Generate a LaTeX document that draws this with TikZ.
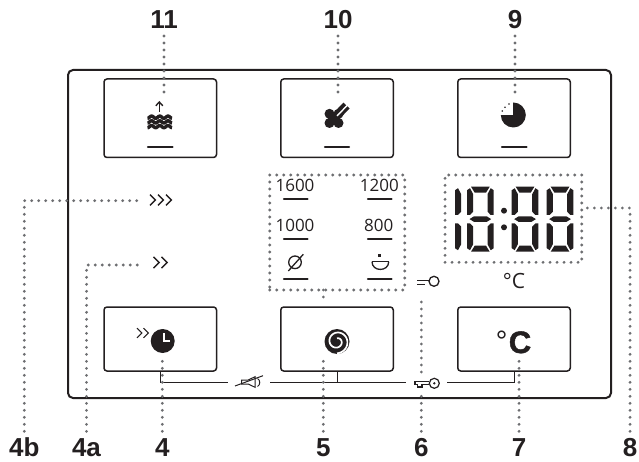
\documentclass[tikz,border=0pt]{standalone}
\usepackage{fontspec}
\setmainfont{Open Sans}
\newfontfamily\labfont{Liberation Sans}
\newfontfamily\cfont[BoldFeatures={FakeBold=1.6}]{Liberation Sans}
\definecolor{ink}{HTML}{231F20}
\definecolor{dotgray}{HTML}{6D6E71}
\newcommand\segvert[1]{%
  \fill[ink,shift={(#1,186.7)}] (0,3.5)--(3,1.5)--(6.2,7.5)--(6.2,25)--(3,28.3)--(0,28.3)--cycle;
  \fill[ink,shift={(#1,186.7)}] (0,61.5)--(3,63.5)--(6.2,57.5)--(6.2,40)--(3,36.7)--(0,36.7)--cycle;}
\newcommand\segrvert[1]{%
  \fill[ink,shift={(#1,186.7)}] (26.7,3.5)--(23.7,1.5)--(20.5,7.5)--(20.5,25)--(23.7,28.3)--(26.7,28.3)--cycle;
  \fill[ink,shift={(#1,186.7)}] (26.7,61.5)--(23.7,63.5)--(20.5,57.5)--(20.5,40)--(23.7,36.7)--(26.7,36.7)--cycle;}
\newcommand\segdigit[1]{%
  \segvert{#1}\segrvert{#1}
  \fill[ink,shift={(#1,186.7)}] (4,0)--(22.7,0)--(19,6)--(7.7,6)--cycle;
  \fill[ink,shift={(#1,186.7)}] (4,65)--(22.7,65)--(19,59)--(7.7,59)--cycle;
  \fill[ink,shift={(#1,186.7)}] (2.5,32.4)--(7,29.6)--(19.7,29.6)--(24.2,32.4)--(19.7,35.2)--(7,35.2)--cycle;}
\newcommand\chevron[4]{\draw[chev,line width=#4] (#1,#2-#3)--(#1+#3,#2)--(#1,#2+#3);}
\tikzset{
  btn/.style={draw=ink,line width=1.5pt,rounded corners=3pt,minimum width=112.5pt,inner sep=0pt,outer sep=0pt},
  bar/.style={draw=ink,line width=2.2pt,line cap=round},
  thinline/.style={draw=ink,line width=0.9pt},
  iconline/.style={draw=ink,line width=1pt},
  chev/.style={draw=ink,line join=miter},
  dots/.style={draw=dotgray,line width=3.1pt,line cap=round,dash pattern=on 0pt off 7pt},
  lab/.style={font=\labfont\bfseries\fontsize{26}{26}\selectfont,text=ink,inner sep=0pt,outer sep=0pt,text height=19pt,text depth=0pt,anchor=base},
  num/.style={font=\fontsize{17}{17}\selectfont,text=ink,inner sep=0pt,outer sep=0pt},
  dotbox/.style={dots,inner sep=0pt,outer sep=0pt}
}
\begin{document}
\begin{tikzpicture}[x=1pt,y=-1pt]
\useasboundingbox (0,0) rectangle (639,462);
\draw[draw=ink,line width=2pt,rounded corners=5pt] (68,70) rectangle (611,398);
% buttons
\node[btn,minimum height=78.5pt] (btn11) at (160.25,118.25) {};
\node[btn,minimum height=78.5pt] (btn10) at (337,118.25) {};
\node[btn,minimum height=78.5pt] (btn9) at (514,118.25) {};
\node[btn,minimum height=64pt] (btn4) at (160.25,339) {};
\node[btn,minimum height=64pt] (btn5) at (337,339) {};
\node[btn,minimum height=64pt] (btn7) at (514,339) {};
% button bars
\draw[bar] (148,147)--(172.5,147);
\draw[bar] (325,147)--(349,147);
\draw[bar] (502,147)--(526.5,147);
% water icon
\draw[draw=ink,line width=1.4pt] (159.3,112)--(159.3,102);
\draw[draw=ink,line width=1.4pt] (155.8,105.8)--(159.3,102)--(162.8,105.8);
\foreach \yy in {117.2,121.9,126.6}
  \draw[draw=ink,line width=3.4pt] plot[domain=147.5:172,samples=50,smooth] (\x,{\yy+1.1*cos(360*(\x-147.5)/8.2)});
% brush icon
\fill[ink] (329.5,113.8) circle (5) (338.5,113.8) circle (5) (329.5,123) circle (5) (338.5,123) circle (5) (334,118.3) circle (6);
\draw[draw=ink,line width=8.5pt] (335,117.5)--(346.5,105.5);
\draw[draw=white,line width=1.4pt] (337,116)--(349,103.5);
% pie
\fill[ink] (513.3,115) circle (12.5);
\fill[white] (500,101.5) rectangle (513.3,115);
\fill[ink] (509,104) circle (0.9) (505,107.3) circle (0.9) (502.3,111) circle (0.9);
% chevrons outside
\coordinate (chevB) at (139,200.7);
\coordinate (chevA) at (140,265);
\chevron{150}{200}{5.4}{1.4pt}
\chevron{158}{200}{5.4}{1.4pt}
\chevron{166}{200}{5.4}{1.4pt}
\chevron{153.5}{262.5}{5.6}{1.4pt}
\chevron{161.5}{262.5}{5.6}{1.4pt}
% speed block
\node[num] (n1600) at (295,185) {1600};
\node[num] (n1200) at (379.3,185) {1200};
\node[num] (n1000) at (295,225) {1000};
\node[num] (n800) at (378.7,225) {800};
\foreach \yy in {199.3,239.3,279.3}{
  \draw[bar] (284,\yy)--(307.5,\yy);
  \draw[bar] (368,\yy)--(391.5,\yy);
}
\draw[iconline,line width=1.3pt] (295,262.3) circle (6.3);
\draw[draw=white,line width=2.2pt] (300.5,254)--(304,252);
\draw[iconline,line width=1.3pt] (288.3,271)--(303.3,254.3);
\fill[ink] (377.8,254) rectangle (380.8,257.3);
\draw[draw=ink,line width=1.3pt] (371.7,261.7)--(389,261.7);
\draw[draw=ink,line width=1.3pt] (372,261.7) .. controls (372,272) and (388.7,272) .. (388.7,261.7);
\node[dotbox,draw,minimum width=135pt,minimum height=115pt] (speedbox) at (337.2,232.5) {};
\coordinate (speedEnd) at (323.3,303);
\draw[dots] (speedbox.south -| speedEnd)--(speedEnd);
% display
\segvert{455}
\segdigit{467}
\segdigit{511.7}
\segdigit{546.7}
\fill[ink] (504,210.7) circle (3) (504,227.3) circle (3);
\node[dotbox,draw,minimum width=136.7pt,minimum height=87.3pt] (dispbox) at (513.35,218.65) {};
\coordinate (dispTap) at (581.7,208);
\node[font=\fontsize{21}{21}\selectfont,text=ink,inner sep=0pt] (deg) at (514,281) {°C};
% lock icon
\draw[iconline,line width=1.3pt] (434,281.3) circle (5);
\draw[iconline,line width=1.3pt] (417,280.7)--(429,280.7);
\draw[iconline,line width=1.3pt] (417,284.3)--(425,284.3);
% clock
\fill[ink] (162.7,341) circle (12);
\draw[draw=white,line width=2pt] (164,333)--(164,341)--(170,341);
\chevron{137}{333}{4.8}{1.1pt}
\chevron{143.5}{333}{4.8}{1.1pt}
% spiral
\fill[ink] (337,341.5) circle (12.5);
\draw[draw=white,line width=1.7pt] plot[domain=270:810,samples=80,smooth] ({337+(3.2+8.6*(\x-270)/540)*cos(\x)},{341.5+(3.2+8.6*(\x-270)/540)*sin(\x)});
% degree C
\node[font=\fontsize{27}{27}\selectfont,text=ink,inner sep=0pt,anchor=base] (ring) at (501.7,350) {°};
\node[font=\cfont\bfseries\fontsize{31}{31}\selectfont,text=ink,inner sep=0pt,anchor=base] (bigC) at (520,353) {C};
% bottom status line
\coordinate (muteL) at (228.3,382.7);
\coordinate (muteR) at (270,382.7);
\coordinate (keyL) at (406,382.7);
\coordinate (keyR) at (447.3,382.7);
\draw[thinline] (btn4.south) |- (muteL);
\draw[thinline] (muteR)--(keyL);
\draw[thinline] (btn5.south) -- (btn5.south |- muteR);
\draw[thinline] (btn7.south) |- (keyR);
% mute icon
\draw[iconline] (241.7,380)--(248.3,380)--(255,376.7)--(255,387.3)--(248.3,384)--(241.7,384)--cycle;
\draw[iconline] (257.5,378.5) .. controls (260.5,380) and (260.5,385) .. (257.5,386.5);
\draw[iconline] (235,386)--(263,375.7);
% key icon
\draw[iconline,line width=1.2pt] (434.3,383.3) circle (5);
\fill[ink] (434.3,383.3) circle (1.3);
\draw[iconline,line width=1.2pt] (429.3,381.7)--(415,381.7)--(415,384.3)--(417.5,384.3)--(417.5,387)--(422,387)--(422,384.3)--(429.3,384.3);
% labels
\node[lab] (lab11) at (164,29) {11};
\node[lab] (lab10) at (338,29) {10};
\node[lab] (lab9) at (515,29) {9};
\node[lab] (lab4b) at (24.3,456.3) {4b};
\node[lab] (lab4a) at (86.5,456.3) {4a};
\node[lab] (lab4) at (162.3,456.3) {4};
\node[lab] (lab5) at (323.3,456.3) {5};
\node[lab] (lab6) at (421.3,456.3) {6};
\node[lab] (lab7) at (519,456.3) {7};
\node[lab] (lab8) at (630,456.3) {8};
% dotted connectors
\coordinate (e11) at (164,93);
\coordinate (e10) at (338,93);
\coordinate (e9) at (515,93);
\draw[dots] ([yshift=-7pt]lab11.south)--(e11);
\draw[dots] ([yshift=-7pt]lab10.south)--(e10);
\draw[dots] ([yshift=-7pt]lab9.south)--(e9);
\coordinate (e4) at (162.3,358);
\coordinate (e5) at (323.3,358);
\coordinate (e7) at (519,358);
\coordinate (e6up) at (421.3,372);
\coordinate (e6lo) at (421.3,395);
\coordinate (e6top) at (421.3,298);
\draw[dots] ([yshift=6pt]lab4.north)--(e4);
\draw[dots] ([yshift=6pt]lab5.north)--(e5);
\draw[dots] ([yshift=6pt]lab7.north)--(e7);
\draw[dots] ([yshift=6pt]lab6.north)--(e6lo);
\draw[dots] (e6up)--(e6top);
\draw[dots] ([yshift=6pt]lab4b.north) |- (chevB);
\draw[dots] ([yshift=6pt]lab4a.north) |- (chevA);
\draw[dots] ([yshift=6pt]lab8.north) |- (dispTap);
\end{tikzpicture}
\end{document}
